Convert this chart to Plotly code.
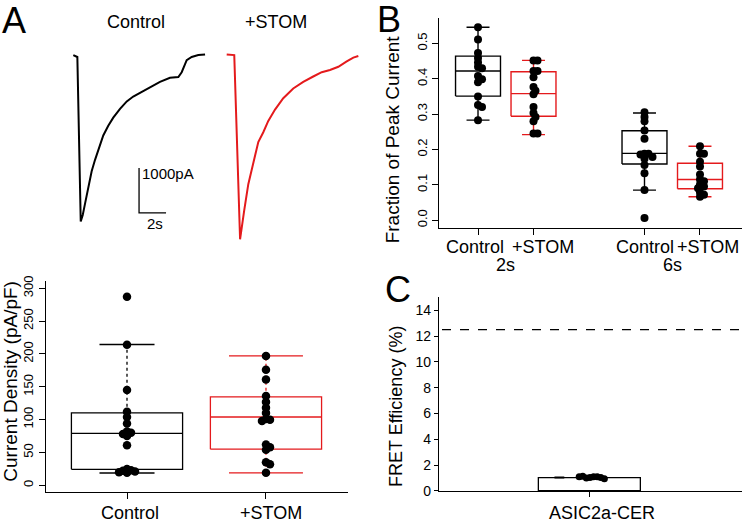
import plotly.graph_objects as go

W, H = 742, 524
RED = "#e41a1c"
BLK = "#000000"
FONT = "Liberation Sans, Arial, sans-serif"

# ---------------- data ----------------
# Panel A: example current traces (time in s, current in pA)
ctrl_t = [0, 0.30, 0.55, 0.70, 0.87, 1.11, 1.36, 1.61, 1.93, 2.22, 2.59, 2.96, 3.46, 3.96,
          4.44, 5.07, 5.68, 6.42, 7.16, 7.78, 8.03, 8.20, 8.40, 8.77, 9.26, 9.76]
ctrl_i = [0, -43, -3711, -3565, -3311, -2951, -2589, -2335, -2046, -1792, -1575, -1395, -1200, -1033,
          -924, -816, -707, -599, -506, -490, -382, -239, -115, -43, 0, 15]
stom_t = [0, 0.56, 0.99, 1.11, 1.30, 1.60, 1.97, 2.34, 2.71, 3.08, 3.58, 4.19, 4.93, 5.67,
          6.41, 7.04, 7.65, 8.27, 8.89, 9.38, 9.75]
stom_i = [0, -15, -4123, -3906, -3472, -2893, -2387, -1953, -1736, -1482, -1230, -977, -760, -614,
          -493, -397, -347, -276, -158, -72, -37]
scale_t = 2        # s
scale_i = 1000     # pA

# Panel A: current density (pA/pF)
a_cats = ["Control", "+STOM"]
a_points = [
    [287, 214, 145, 112, 104, 94, 82, 80, 78, 75, 61, 25, 23, 22, 21, 20, 19],
    [197, 176, 161, 136, 127, 118, 110, 101, 100, 98, 62, 58, 54, 35, 32, 19],
]
a_lo = [18.8, 19]
a_q1 = [24.3, 55]
a_med = [79.2, 104]
a_q3 = [110.4, 134.7]
a_hi = [214.4, 197]
a_ticks = [0, 50, 100, 150, 200, 250, 300]

# Panel B: fraction of peak current
b_cats = ["Control", "+STOM", "Control", "+STOM"]
b_groups = ["2s", "6s"]
b_points = [
    [0.546, 0.511, 0.473, 0.459, 0.446, 0.434, 0.43, 0.408, 0.399, 0.390, 0.350, 0.326, 0.320, 0.283],
    [0.452, 0.452, 0.422, 0.422, 0.404, 0.377, 0.366, 0.356, 0.320, 0.303, 0.292, 0.280, 0.245, 0.245],
    [0.305, 0.292, 0.280, 0.254, 0.230, 0.188, 0.188, 0.186, 0.179, 0.174, 0.156, 0.133, 0.085, 0.006],
    [0.209, 0.188, 0.188, 0.165, 0.152, 0.129, 0.115, 0.110, 0.101, 0.095, 0.090, 0.078, 0.072, 0.066],
]
b_lo = [0.283, 0.242, 0.085, 0.066]
b_q1 = [0.351, 0.294, 0.159, 0.089]
b_med = [0.422, 0.358, 0.189, 0.115]
b_q3 = [0.464, 0.420, 0.253, 0.161]
b_hi = [0.546, 0.452, 0.303, 0.209]
b_ticks = [0.0, 0.1, 0.2, 0.3, 0.4, 0.5]

# Panel C: FRET efficiency (%)
c_cat = "ASIC2a-CER"
c_mean = 1.0
c_points = [1.05, 1.1, 1.0, 1.1, 1.15, 1.05, 1.1, 0.95]
c_mark = 1.05
c_ref = 12.5
c_ticks = [0, 2, 4, 6, 8, 10, 12, 14]

# ---------------- layout helpers ----------------
def xd(p0, p1):
    return [p0 / W, p1 / W]

def yd(p0, p1):  # p0 top pixel, p1 bottom pixel
    return [1 - p1 / H, 1 - p0 / H]

fig = go.Figure()

# trace panels
fig.add_trace(go.Scatter(x=ctrl_t, y=ctrl_i, mode="lines", line=dict(color=BLK, width=2),
                         xaxis="x", yaxis="y", hoverinfo="skip"))
fig.add_trace(go.Scatter(x=stom_t, y=stom_i, mode="lines", line=dict(color=RED, width=2),
                         xaxis="x2", yaxis="y2", hoverinfo="skip"))

# scale bar (anchored in control-trace axes)
sb_x, sb_y = 4.87, -3520
fig.add_trace(go.Scatter(x=[sb_x, sb_x, sb_x + scale_t], y=[sb_y + scale_i, sb_y, sb_y],
                         mode="lines", line=dict(color=BLK, width=1.3), xaxis="x", yaxis="y",
                         hoverinfo="skip"))


def swarm(vals, ypx, xpx, d):
    placed, offs = [], []
    cands = [0]
    for j in range(1, 30):
        cands += [j, -j]
    for v in vals:
        yv = v * ypx
        o = 0
        for k in cands:
            o = k * d * 0.5
            if all((o - po) ** 2 + (yv - py) ** 2 >= d * d for po, py in placed):
                break
        placed.append((o, yv))
        offs.append(o / xpx)
    return offs


def add_box(pos, lo, q1, med, q3, hi, color, bh, ch, dash, xa, ya, lw):
    ln = dict(color=color, width=lw)
    fig.add_trace(go.Scatter(x=[pos, pos], y=[q3, hi], mode="lines",
                             line=dict(color=color, width=lw, dash=dash), xaxis=xa, yaxis=ya, hoverinfo="skip"))
    fig.add_trace(go.Scatter(x=[pos, pos], y=[lo, q1], mode="lines",
                             line=dict(color=color, width=lw, dash=dash), xaxis=xa, yaxis=ya, hoverinfo="skip"))
    fig.add_trace(go.Scatter(x=[pos - ch, pos + ch, None, pos - ch, pos + ch], y=[hi, hi, None, lo, lo],
                             mode="lines", line=ln, xaxis=xa, yaxis=ya, hoverinfo="skip"))
    fig.add_trace(go.Scatter(x=[pos - bh, pos + bh, pos + bh, pos - bh, pos - bh, None, pos - bh, pos + bh],
                             y=[q1, q1, q3, q3, q1, None, med, med], mode="lines", line=ln,
                             xaxis=xa, yaxis=ya, hoverinfo="skip"))


# Panel A bottom box plot
A_X0, A_X1, A_Y0, A_Y1 = 45.7, 347.7, 283, 499.5
a_xr = [0.415, 2.588]
a_yr = [-10.4, 310.4]
a_xpx = (A_X1 - A_X0) / (a_xr[1] - a_xr[0])
a_ypx = (A_Y1 - A_Y0) / (a_yr[1] - a_yr[0])
a_colors = [BLK, RED]
a_caps = [0.198, 0.266]
for i in range(2):
    add_box(i + 1, a_lo[i], a_q1[i], a_med[i], a_q3[i], a_hi[i], a_colors[i], 0.4, a_caps[i], "dot",
            "x3", "y3", 1.3)
for i in range(2):
    offs = swarm(a_points[i], a_ypx, a_xpx, 4.0)
    fig.add_trace(go.Scatter(x=[i + 1 + o for o in offs], y=a_points[i], mode="markers",
                             marker=dict(color=BLK, size=8.5), xaxis="x3", yaxis="y3", hoverinfo="skip"))

# Panel B
B_X0, B_X1, B_Y0, B_Y1 = 439, 742, 12.7, 228
b_xr = [0.297, 5.757]
b_yr = [-0.022, 0.571]
b_xpx = (B_X1 - B_X0) / (b_xr[1] - b_xr[0])
b_ypx = (B_Y1 - B_Y0) / (b_yr[1] - b_yr[0])
b_pos = [1, 2, 4, 5]
b_colors = [BLK, RED, BLK, RED]
for i in range(4):
    add_box(b_pos[i], b_lo[i], b_q1[i], b_med[i], b_q3[i], b_hi[i], b_colors[i], 0.405, 0.207, "solid",
            "x4", "y4", 1.4)
for i in range(4):
    offs = swarm(b_points[i], b_ypx, b_xpx, 4.0)
    fig.add_trace(go.Scatter(x=[b_pos[i] + o for o in offs], y=b_points[i], mode="markers",
                             marker=dict(color=BLK, size=8), xaxis="x4", yaxis="y4", hoverinfo="skip"))

# Panel C
C_X0, C_X1, C_Y0, C_Y1 = 439, 742, 299.3, 498.3
c_xr = [0.112, 1.894]
c_yr = [0, 15]
c_xpx = (C_X1 - C_X0) / (c_xr[1] - c_xr[0])
c_ypx = (C_Y1 - C_Y0) / (c_yr[1] - c_yr[0])
fig.add_trace(go.Bar(x=[1], y=[c_mean], width=0.6, marker=dict(color="white", line=dict(color=BLK, width=1.3)),
                     xaxis="x5", yaxis="y5", hoverinfo="skip"))
offs = swarm(c_points, c_ypx, c_xpx, 3.6)
fig.add_trace(go.Scatter(x=[1 + o for o in offs], y=c_points, mode="markers",
                         marker=dict(color=BLK, size=7), xaxis="x5", yaxis="y5", hoverinfo="skip"))
fig.add_trace(go.Scatter(x=[1 - 0.18], y=[c_mark], mode="markers",
                         marker=dict(symbol="line-ew", size=7, line=dict(color=BLK, width=2)),
                         xaxis="x5", yaxis="y5", hoverinfo="skip"))

axis_common = dict(showline=True, linecolor=BLK, linewidth=1.2, ticks="outside", tickcolor=BLK,
                   tickwidth=1.2, showgrid=False, zeroline=False, fixedrange=True)

layout = dict(
    width=W, height=H, margin=dict(l=0, r=0, t=0, b=0), showlegend=False,
    paper_bgcolor="white", plot_bgcolor="white",
    font=dict(family=FONT, color=BLK),
    bargap=0,
    xaxis=dict(domain=xd(69.25, 211), range=[-0.3, 10.2], visible=False, anchor="y"),
    yaxis=dict(domain=yd(41.2, 248.6), range=[-4300, 200], visible=False, anchor="x"),
    xaxis2=dict(domain=xd(222.65, 364.4), range=[-0.3, 10.2], visible=False, anchor="y2"),
    yaxis2=dict(domain=yd(40.5, 247.9), range=[-4300, 200], visible=False, anchor="x2"),
    xaxis3=dict(domain=xd(A_X0, A_X1), range=a_xr, anchor="y3", tickvals=[1, 2],
                showticklabels=False, ticklen=6, **axis_common),
    yaxis3=dict(domain=yd(A_Y0, A_Y1), range=a_yr, anchor="x3", tickvals=a_ticks,
                ticktext=[str(v) for v in a_ticks], tickangle=-90, ticklen=6,
                tickfont=dict(size=13), **axis_common),
    xaxis4=dict(domain=xd(B_X0, B_X1), range=b_xr, anchor="y4", tickvals=b_pos,
                showticklabels=False, ticklen=6, **axis_common),
    yaxis4=dict(domain=yd(B_Y0, B_Y1), range=b_yr, anchor="x4", tickvals=b_ticks,
                ticktext=[f"{v:.1f}" for v in b_ticks], tickangle=-90, ticklen=6,
                tickfont=dict(size=13), **axis_common),
    xaxis5=dict(domain=xd(C_X0, C_X1), range=c_xr, anchor="y5", tickvals=[1],
                showticklabels=False, ticklen=5, **axis_common),
    yaxis5=dict(domain=yd(C_Y0, C_Y1), range=c_yr, anchor="x5", tickvals=c_ticks,
                ticktext=[str(v) for v in c_ticks], ticklen=4, tickfont=dict(size=14), **axis_common),
)
fig.update_layout(**layout)

fig.add_shape(type="line", xref="x5 domain", yref="y5", x0=0.01, x1=1, y0=c_ref, y1=c_ref,
              line=dict(color=BLK, width=1.3, dash="dash"))


def pann(text, px, py, size, angle=0, xanchor="center", yanchor="middle"):
    fig.add_annotation(text=text, x=px / W, y=1 - py / H, xref="paper", yref="paper", showarrow=False,
                       font=dict(size=size, family=FONT, color=BLK), textangle=angle,
                       xanchor=xanchor, yanchor=yanchor)


def xlab(text, xpos, xref, py, shift, size=18):
    fig.add_annotation(text=text, x=xpos, y=1 - py / H, xref=xref, yref="paper", showarrow=False,
                       xshift=shift, xanchor="center", yanchor="middle",
                       font=dict(size=size, family=FONT, color=BLK))


pann("A", 14, 15, 36)
pann("B", 389, 14, 36)
pann("C", 398, 291, 36)
pann("Control", 136, 16, 18)
pann("+STOM", 276, 16, 18)
pann("Current Density (pA/pF)", 11, 386, 19, angle=-90)
pann("Fraction of Peak Current", 392, 137, 19, angle=-90)
pann("FRET Efficiency (%)", 396, 412, 18, angle=-90)

# category labels
for i, (c, sh) in enumerate(zip(a_cats, [3, 5.5])):
    xlab(c, i + 1, "x3", 521, sh)
for p, c, sh in zip(b_pos, b_cats, [-3, 9, 0, 8]):
    xlab(c, p, "x4", 248, sh)
for g, gx in zip(b_groups, [1.5, 4.5]):
    xlab(g, gx, "x4", 266, 0)
xlab(c_cat, 1, "x5", 521, 12)

# scale bar labels (data coords)
fig.add_annotation(text=f"{scale_i}pA", x=sb_x + 0.05, y=sb_y + scale_i * 0.87, xref="x", yref="y",
                   showarrow=False, xanchor="left", yanchor="middle", font=dict(size=15, family=FONT))
fig.add_annotation(text=f"{scale_t}s", x=sb_x + scale_t * 0.58, y=sb_y, xref="x", yref="y",
                   showarrow=False, xanchor="center", yanchor="top", font=dict(size=15, family=FONT))

fig.write_html("out.html", config={"displayModeBar": False},
               post_script="document.body.style.margin='0';document.body.style.padding='0';")
